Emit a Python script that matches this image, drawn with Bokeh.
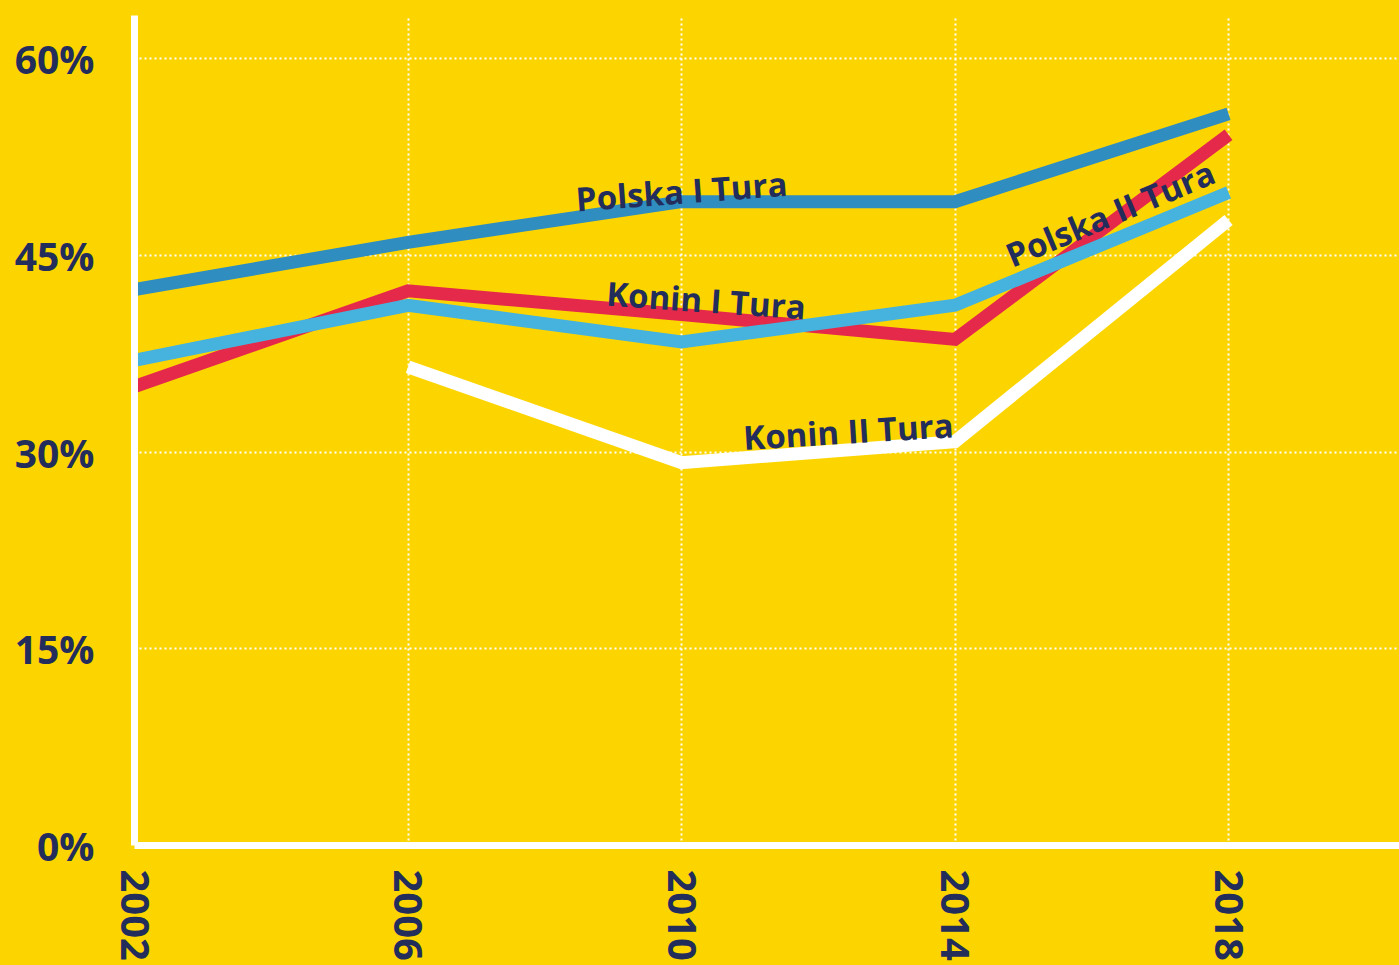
import math
from bokeh.plotting import figure
from bokeh.models import FixedTicker, ColumnDataSource
from bokeh.core.properties import value
from bokeh.embed import file_html
from bokeh.resources import INLINE

# ---- data ----
years = [2002, 2006, 2010, 2014, 2018]
polska_1 = [42.4, 46.0, 49.1, 49.1, 55.8]
konin_1 = [35.0, 42.3, 40.5, 38.6, 54.2]
polska_2 = [37.0, 41.2, 38.4, 41.2, 49.8]
konin_2_years = [2006, 2010, 2014, 2018]
konin_2 = [36.5, 29.2, 30.8, 47.7]

y_ticks = [0, 15, 30, 45, 60]
y_tick_labels = ["0%", "15%", "30%", "45%", "60%"]

label_texts = ["Polska I Tura", "Konin I Tura", "Konin II Tura", "Polska II Tura"]
label_x = [2010.0, 2010.36, 2012.44, 2016.27]
label_y = [49.9, 41.6, 31.6, 48.2]
label_angle = [4.3, -4.0, 3.5, 22.7]

BG = "#FCD500"
NAVY = "#232D5B"
DARK_BLUE = "#2F8DBF"
LIGHT_BLUE = "#45B3DE"
RED = "#E5294A"
WHITE = "#FFFFFF"
FONT = "Open Sans"

p = figure(width=1399, height=965, output_backend="svg", toolbar_location=None,
           x_range=(2002, 2020.5), y_range=(0, 63.3),
           min_border_left=134, min_border_right=0, min_border_top=15, min_border_bottom=120)
p.background_fill_color = BG
p.border_fill_color = BG
p.outline_line_color = None

# grids
p.xgrid.ticker = FixedTicker(ticks=years)
p.ygrid.ticker = FixedTicker(ticks=y_ticks)
for g in (p.xgrid, p.ygrid):
    g.grid_line_color = WHITE
    g.grid_line_width = 2
    g.grid_line_dash = "2 3"

# axes
p.xaxis.ticker = FixedTicker(ticks=years)
p.yaxis.ticker = FixedTicker(ticks=y_ticks)
p.yaxis.major_label_overrides = {t: l for t, l in zip(y_ticks, y_tick_labels)}
p.xaxis.major_label_orientation = -math.pi / 2
for ax in (p.xaxis, p.yaxis):
    ax.axis_line_color = WHITE
    ax.axis_line_width = 7
    ax.major_tick_line_color = None
    ax.minor_tick_line_color = None
    ax.major_tick_out = 0
    ax.major_tick_in = 0
    ax.major_label_text_color = NAVY
    ax.major_label_text_font = FONT
    ax.major_label_text_font_style = "bold"
p.yaxis.major_label_text_font_size = "39px"
p.xaxis.major_label_text_font_size = "40px"
p.yaxis.major_label_standoff = 40
p.xaxis.major_label_standoff = 24

# series lines
common = dict(line_width=13, line_join="miter", line_cap="butt")
p.line(years, konin_1, line_color=RED, **common)
p.line(years, polska_2, line_color=LIGHT_BLUE, **common)
p.line(years, polska_1, line_color=DARK_BLUE, **common)
p.line(konin_2_years, konin_2, line_color=WHITE, **common)

# series labels
src = ColumnDataSource(dict(x=label_x, y=label_y, text=label_texts, angle=label_angle))
p.text(x="x", y="y", text="text", angle="angle", angle_units="deg", source=src,
       text_font=value(FONT), text_font_style="bold", text_font_size="33px",
       text_color=NAVY, text_align="center", text_baseline="middle")

html = file_html(p, INLINE)
html = html.replace("</head>", "<style>body{background:%s;}</style></head>" % BG, 1)
open("out.html", "w").write(html)
